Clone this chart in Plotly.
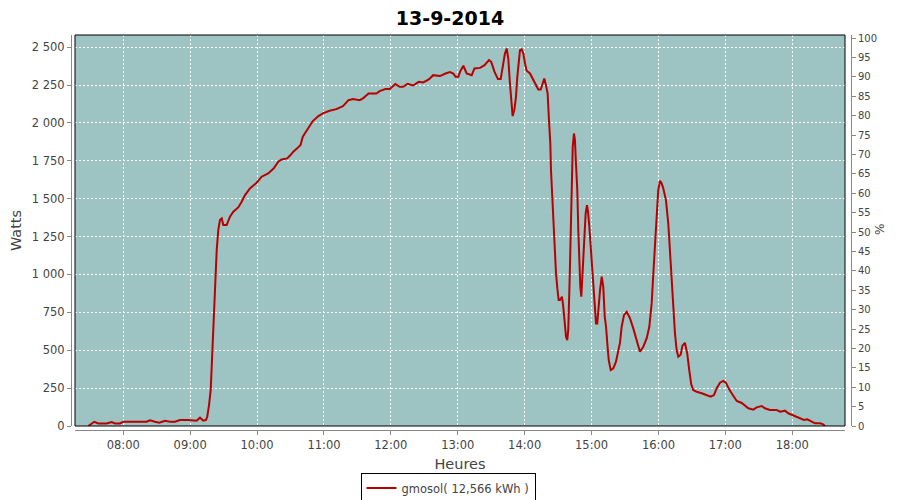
import plotly.graph_objects as go

DAY = "2014-09-13"
TITLE = "13-9-2014"
SERIES_NAME = "gmosol( 12,566 kWh )"

times = [
    "07:28:36", "07:34:00", "07:37:36", "07:45:06", "07:49:36", "07:52:36", "07:57:00",
    "08:00:00", "08:21:00", "08:23:54", "08:28:24", "08:32:18", "08:37:24", "08:41:54",
    "08:46:24", "08:50:54", "08:58:18", "09:02:48", "09:05:48", "09:08:48", "09:11:48",
    "09:14:12", "09:15:18", "09:16:54", "09:18:24", "09:19:18", "09:20:12", "09:21:18",
    "09:22:30", "09:23:48", "09:25:12", "09:26:42", "09:28:18", "09:29:42", "09:32:42",
    "09:35:42", "09:38:42", "09:43:06", "09:46:12", "09:49:12", "09:53:36", "09:59:36",
    "10:04:06", "10:10:00", "10:15:00", "10:19:00", "10:22:00", "10:27:00", "10:30:00",
    "10:32:30", "10:36:00", "10:39:00", "10:41:00", "10:44:00", "10:47:00", "10:50:00",
    "10:55:00", "10:59:00", "11:05:00", "11:11:00", "11:17:00", "11:22:00", "11:26:00",
    "11:32:00", "11:35:00", "11:40:00", "11:47:00", "11:50:00", "11:55:00", "11:59:00",
    "12:04:00", "12:08:00", "12:11:00", "12:15:00", "12:20:00", "12:25:00", "12:29:00",
    "12:34:00", "12:38:00", "12:44:00", "12:49:00", "12:53:00", "12:56:00", "12:58:00",
    "13:00:30", "13:02:00", "13:05:00", "13:08:00", "13:12:30", "13:15:00", "13:20:00",
    "13:24:00", "13:28:00", "13:30:00", "13:33:00", "13:36:00", "13:38:30", "13:40:18",
    "13:42:18", "13:43:54", "13:45:18", "13:46:48", "13:48:18", "13:49:12", "13:50:42",
    "13:52:12", "13:53:24", "13:54:54", "13:55:48", "13:57:18", "13:58:48", "14:00:18",
    "14:01:48", "14:04:48", "14:09:12", "14:12:12", "14:14:24", "14:16:12", "14:17:36",
    "14:19:06", "14:20:36", "14:21:48", "14:23:00", "14:23:36", "14:24:48", "14:26:00",
    "14:26:54", "14:28:06", "14:29:18", "14:30:30", "14:31:42", "14:33:30", "14:34:36",
    "14:35:54", "14:37:06", "14:38:12", "14:39:06", "14:40:24", "14:41:18", "14:42:12",
    "14:43:06", "14:44:12", "14:45:06", "14:46:00", "14:47:12", "14:48:06", "14:49:00",
    "14:49:54", "14:50:48", "14:51:42", "14:52:36", "14:53:30", "14:54:42", "14:55:54",
    "14:56:48", "14:58:00", "14:59:12", "15:00:24", "15:01:30", "15:02:48", "15:04:00",
    "15:05:06", "15:06:24", "15:07:36", "15:09:06", "15:10:30", "15:11:48", "15:13:00",
    "15:14:06", "15:15:24", "15:17:12", "15:19:30", "15:21:54", "15:24:00", "15:25:30",
    "15:27:00", "15:29:06", "15:31:30", "15:34:30", "15:37:24", "15:40:30", "15:43:24",
    "15:46:24", "15:49:24", "15:51:48", "15:53:54", "15:55:24", "15:56:54", "15:58:24",
    "15:59:48", "16:01:24", "16:02:54", "16:04:18", "16:06:42", "16:08:48", "16:10:18",
    "16:11:48", "16:13:18", "16:14:48", "16:16:18", "16:17:48", "16:19:54", "16:21:30",
    "16:23:42", "16:25:48", "16:27:36", "16:29:24", "16:31:12", "16:34:18", "16:38:48",
    "16:43:12", "16:46:48", "16:49:48", "16:52:12", "16:55:12", "16:58:06", "17:00:36",
    "17:03:30", "17:07:06", "17:10:12", "17:14:42", "17:17:36", "17:20:36", "17:25:06",
    "17:28:06", "17:32:36", "17:35:30", "17:40:00", "17:46:00", "17:49:00", "17:53:30",
    "17:56:24", "18:00:24", "18:04:00", "18:06:54", "18:10:30", "18:13:30", "18:17:24",
    "18:20:24", "18:24:54", "18:27:18", "18:29:24",
]

watts = [
    0, 28, 17, 17, 26, 17, 17,
    28, 28, 37, 28, 22, 35, 28,
    28, 40, 40, 35, 35, 55, 35,
    40, 61, 138, 237, 391, 545, 809,
    1029, 1161, 1293, 1359, 1370, 1326, 1326,
    1381, 1414, 1442, 1480, 1524, 1568, 1605,
    1645, 1667, 1700, 1744, 1759, 1766, 1788,
    1810, 1832, 1854, 1909, 1942, 1979, 2012,
    2045, 2063, 2080, 2091, 2111, 2150, 2157,
    2150, 2162, 2194, 2194, 2210, 2223, 2223,
    2256, 2238, 2238, 2258, 2247, 2271, 2267,
    2287, 2315, 2309, 2326, 2335, 2326, 2304,
    2304, 2337, 2377, 2326, 2315, 2359, 2363,
    2381, 2414, 2403, 2337, 2289, 2289, 2370,
    2458, 2491, 2425, 2260, 2084, 2045, 2084,
    2172, 2304, 2414, 2480, 2485, 2458, 2392,
    2344, 2326, 2260, 2220, 2220, 2271, 2293,
    2249, 2194, 2018, 1865, 1689, 1512, 1315,
    1161, 1007, 908, 831, 831, 853, 787,
    699, 589, 567, 633, 985, 1293, 1623,
    1842, 1930, 1887, 1733, 1557, 1293, 1073,
    919, 853, 985, 1161, 1315, 1403, 1458,
    1414, 1315, 1183, 1073, 941, 765, 677,
    677, 809, 897, 985, 919, 721, 655,
    545, 435, 369, 380, 424, 501, 550,
    655, 732, 754, 710, 644, 567, 490,
    523, 578, 655, 809, 1007, 1227, 1425,
    1557, 1618, 1601, 1568, 1491, 1337, 1161,
    941, 765, 611, 501, 457, 470, 530,
    549, 479, 369, 275, 237, 226, 216,
    204, 193, 204, 249, 286, 298, 285,
    240, 200, 165, 152, 136, 117, 108,
    123, 132, 117, 106, 106, 94, 101,
    84, 73, 61, 51, 40, 44, 28,
    18, 18, 13, 0,
]

x_range = ["07:16:42", "18:47:18"]
watt_range = [0, 2580]
pct_range = [0, 100.8]
watt_step = 250
pct_step = 5

x = [f"{DAY} {t}" for t in times]

# The page body has an 8px margin, so the figure is drawn 8px smaller and
# all pixel targets below are in figure coordinates.
W, H = 892, 492
ml, mr, mt, mb = 12, 12, 27, 70
pw, ph = W - ml - mr, H - mt - mb
x_dom = [(67 - ml) / pw, (837 - ml) / pw]
y_dom = [(H - mb - 418) / ph, 1.0]
yl_pos = (63 - ml) / pw
yr_pos = (843 - ml) / pw

FONT = "DejaVu Sans"
TXT = "#444444"
AX = "#888888"

fig = go.Figure()
fig.add_trace(go.Scatter(
    x=x, y=watts, mode="lines", name=SERIES_NAME,
    line=dict(color="#b80000", width=2), xaxis="x", yaxis="y",
))
# invisible trace so the percentage axis is drawn
fig.add_trace(go.Scatter(
    x=[x[0], x[-1]], y=pct_range, mode="lines", xaxis="x", yaxis="y2",
    line=dict(width=0, color="rgba(0,0,0,0)"), showlegend=False, hoverinfo="skip",
))

fig.update_layout(
    width=W, height=H,
    margin=dict(l=ml, r=mr, t=mt, b=mb),
    paper_bgcolor="white",
    plot_bgcolor="#9dc3c2",
    separators=", ",
    font=dict(family=FONT, color=TXT, size=11.5),
    title=dict(text=TITLE, x=442 / W, xanchor="center", y=1, yanchor="top",
               yref="container", pad=dict(t=4, b=0),
               font=dict(family=FONT, size=19, color="black", weight="bold")),
    xaxis=dict(
        domain=x_dom, anchor="free", position=0,
        type="date", range=[f"{DAY} {x_range[0]}", f"{DAY} {x_range[1]}"],
        tick0=f"{DAY} 08:00", dtick=3600000, tickformat="%H:%M",
        showgrid=True, gridcolor="white", griddash="2px,2px", gridwidth=1,
        showline=True, linecolor=AX, linewidth=1,
        ticks="outside", ticklen=4, tickcolor=AX,
        tickfont=dict(size=11.5, color=TXT),
        title=dict(text="Heures", font=dict(size=14.5, color=TXT), standoff=8),
        zeroline=False, automargin=False,
    ),
    yaxis=dict(
        domain=y_dom, anchor="free", position=yl_pos,
        range=watt_range, dtick=watt_step, tick0=0, tickformat=",d",
        showgrid=True, gridcolor="white", griddash="2px,2px", gridwidth=1,
        showline=True, linecolor=AX, linewidth=1,
        ticks="outside", ticklen=4, tickcolor=AX,
        tickfont=dict(size=11.5, color=TXT),
        title=dict(text="Watts", font=dict(size=14.5, color=TXT), standoff=10),
        zeroline=False, automargin=False,
    ),
    yaxis2=dict(
        domain=y_dom, overlaying="y", side="right", anchor="free", position=yr_pos,
        range=pct_range, dtick=pct_step, tick0=0,
        showgrid=False, showline=True, linecolor=AX, linewidth=1,
        ticks="outside", ticklen=4, tickcolor=AX,
        tickfont=dict(size=10, color=TXT),
        zeroline=False, automargin=False,
    ),
    annotations=[dict(text="%", xref="paper", yref="paper",
                      x=(872 - ml) / pw, y=(H - mb - 222) / ph,
                      xanchor="center", yanchor="middle",
                      showarrow=False, textangle=-90,
                      font=dict(size=12, color=TXT))],
    showlegend=True,
    legend=dict(
        orientation="h", xref="container", yref="container",
        x=440 / W, xanchor="center", y=1 - 480 / H, yanchor="middle",
        bgcolor="white", bordercolor="black", borderwidth=1,
        font=dict(size=11.5, color=TXT), itemwidth=30,
    ),
    shapes=[dict(type="rect", xref="paper", yref="paper",
                 x0=x_dom[0], x1=x_dom[1], y0=y_dom[0], y1=y_dom[1],
                 line=dict(color="black", width=1), layer="above")],
)

fig.write_html("out.html")
